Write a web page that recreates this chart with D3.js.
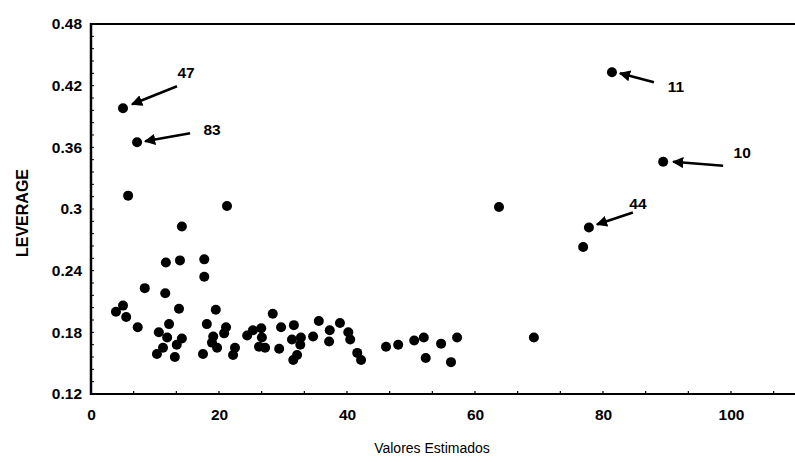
<!DOCTYPE html>
<html>
<head>
<meta charset="utf-8">
<script src="https://cdn.jsdelivr.net/npm/d3@7"></script>
<style>
  html, body { margin: 0; padding: 0; background: #fff; }
  svg { display: block; }
  text { font-family: "Liberation Sans", Arial, sans-serif; fill: #000; }
</style>
</head>
<body>
<svg id="chart" width="795" height="462"></svg>
<script>
// ---- data ----
const estimados = [
  5.0, 7.2, 5.8, 21.25, 14.2, 11.7, 13.9, 17.7, 17.7, 8.4,
  11.6, 3.9, 5.0, 5.5, 7.3, 13.75, 19.5, 12.2, 18.1, 10.6,
  11.9, 14.2, 13.4, 11.25, 10.3, 13.1, 17.5, 19.1, 18.9, 19.7,
  21.1, 20.8, 22.2, 22.5, 24.4, 25.3, 26.6, 26.7, 26.25, 27.2,
  28.4, 29.7, 29.4, 31.7, 31.4, 32.8, 32.7, 32.2, 31.6, 34.7,
  35.6, 37.3, 37.2, 38.9, 40.2, 40.5, 41.6, 42.2, 46.1, 48.0,
  50.5, 52.0, 54.7, 57.2, 52.3, 56.25, 69.2, 63.75, 76.9, 77.8,
  81.4, 89.4
];
const leverage = [
  0.398, 0.365, 0.313, 0.303, 0.283, 0.248, 0.250, 0.251, 0.234, 0.223,
  0.218, 0.200, 0.206, 0.195, 0.185, 0.203, 0.202, 0.188, 0.188, 0.180,
  0.175, 0.174, 0.168, 0.165, 0.159, 0.156, 0.159, 0.176, 0.170, 0.165,
  0.185, 0.179, 0.158, 0.165, 0.177, 0.182, 0.184, 0.175, 0.166, 0.165,
  0.198, 0.185, 0.164, 0.187, 0.173, 0.175, 0.168, 0.158, 0.153, 0.176,
  0.191, 0.182, 0.171, 0.189, 0.180, 0.173, 0.160, 0.153, 0.166, 0.168,
  0.172, 0.175, 0.169, 0.175, 0.155, 0.151, 0.175, 0.302, 0.263, 0.282,
  0.433, 0.346
];
const xTicks = [0, 20, 40, 60, 80, 100];
const yTicks = [0.12, 0.18, 0.24, 0.30, 0.36, 0.42, 0.48];
const yTickLabels = ["0.12", "0.18", "0.24", "0.3", "0.36", "0.42", "0.48"];
const annotLabels = ["47", "83", "11", "10", "44"];
const annotIndex = [0, 1, 70, 71, 69];

(function draw() {
  const svg = d3.select("#chart");
  const pLeft = 91, pTop = 24, pBottom = 394, pRight = 795;
  const x = d3.scaleLinear().domain([0, 110]).range([pLeft, pLeft + 110 * 6.4]);
  const y = d3.scaleLinear().domain([0.12, 0.48]).range([pBottom, pTop]);

  // top frame line
  svg.append("line").attr("x1", pLeft).attr("x2", pRight).attr("y1", pTop).attr("y2", pTop)
    .attr("stroke", "#000").attr("stroke-width", 2);

  // x axis
  const xAxis = d3.axisBottom(x).tickValues(xTicks).tickSize(0).tickPadding(15)
    .tickFormat(d3.format("d"));
  const gx = svg.append("g").attr("transform", `translate(0,${pBottom})`).call(xAxis);
  gx.select(".domain").remove();
  gx.append("line").attr("x1", pLeft).attr("x2", pRight).attr("y1", 0).attr("y2", 0)
    .attr("stroke", "#000").attr("stroke-width", 2);
  gx.selectAll(".tick text").attr("font-size", 15.5).attr("font-weight", "bold")
    .attr("font-family", "Liberation Sans, Arial, sans-serif").attr("fill", "#000");
  const xMinor = d3.range(0, 111, 20 / 3);
  gx.selectAll("line.minor").data(xMinor).enter().append("line")
    .attr("class", "minor").attr("x1", d => x(d)).attr("x2", d => x(d))
    .attr("y1", 0).attr("y2", -3).attr("stroke", "#000").attr("stroke-width", 1.2);

  // y axis
  const yAxis = d3.axisLeft(y).tickValues(yTicks).tickSize(0).tickPadding(9)
    .tickFormat((d, i) => yTickLabels[i]);
  const gy = svg.append("g").attr("transform", `translate(${pLeft},0)`).call(yAxis);
  gy.select(".domain").remove();
  gy.append("line").attr("x1", 0).attr("x2", 0).attr("y1", pTop - 1).attr("y2", pBottom + 1)
    .attr("stroke", "#000").attr("stroke-width", 2.5);
  gy.selectAll(".tick text").attr("font-size", 15.5).attr("font-weight", "bold")
    .attr("font-family", "Liberation Sans, Arial, sans-serif").attr("fill", "#000");
  const yMinor = d3.range(0.12, 0.4801, 0.012);
  gy.selectAll("line.minor").data(yMinor).enter().append("line")
    .attr("class", "minor").attr("x1", 0).attr("x2", 3)
    .attr("y1", d => y(d)).attr("y2", d => y(d)).attr("stroke", "#000").attr("stroke-width", 1);

  // axis titles
  svg.append("text").attr("x", 432).attr("y", 453).attr("text-anchor", "middle")
    .attr("font-size", 14).text("Valores Estimados");
  svg.append("text").attr("transform", "translate(28,213) rotate(-90)")
    .attr("text-anchor", "middle").attr("font-size", 16).attr("font-weight", "bold")
    .text("LEVERAGE");

  // points
  const pts = estimados.map((v, i) => ({ x: v, y: leverage[i] }));
  svg.append("g").selectAll("circle").data(pts).enter().append("circle")
    .attr("cx", d => x(d.x)).attr("cy", d => y(d.y)).attr("r", 5).attr("fill", "#000");

  // arrowhead marker
  const defs = svg.append("defs");
  defs.append("marker").attr("id", "ah").attr("viewBox", "0 0 10 10")
    .attr("refX", 9).attr("refY", 5).attr("markerWidth", 4.5).attr("markerHeight", 4.5)
    .attr("markerUnits", "strokeWidth").attr("orient", "auto")
    .append("path").attr("d", "M0,0 L10,5 L0,10 Z").attr("fill", "#000");

  // style offsets (px) relative to annotated point: [textDx, textDy, tailDx, tailDy, headDx, headDy]
  const annotOffsets = [
    [63, -36, 54, -22, 9, -4],
    [75, -13, 53, -9, 8, -1],
    [64, 14, 42, 10, 8, 1],
    [79, -9, 60, 4, 10, 0],
    [49, -24, 44, -15, 8, -3]
  ];
  const ga = svg.append("g");
  annotLabels.forEach((lab, k) => {
    const p = pts[annotIndex[k]];
    const px = x(p.x), py = y(p.y);
    const o = annotOffsets[k];
    ga.append("line").attr("x1", px + o[2]).attr("y1", py + o[3])
      .attr("x2", px + o[4]).attr("y2", py + o[5])
      .attr("stroke", "#000").attr("stroke-width", 2.5).attr("marker-end", "url(#ah)");
    ga.append("text").attr("x", px + o[0]).attr("y", py + o[1])
      .attr("text-anchor", "middle").attr("dominant-baseline", "central")
      .attr("font-size", 15.5).attr("font-weight", "bold").text(lab);
  });
})();
</script>
</body>
</html>
